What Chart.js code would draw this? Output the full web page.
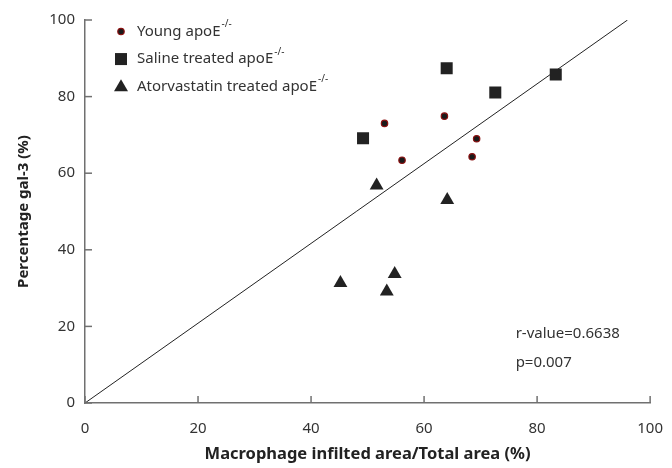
<!DOCTYPE html>
<html>
<head>
<meta charset="utf-8">
<script src="https://cdn.jsdelivr.net/npm/chart.js@4.4.1/dist/chart.umd.min.js"></script>
<style>
  html, body { margin: 0; padding: 0; background: #fff; }
  #wrap { width: 672px; height: 468px; }
</style>
</head>
<body>
<div id="wrap"><canvas id="grafico"></canvas></div>
<script>
// dados
const youngX = [53.0, 63.6, 69.3, 68.5, 56.1];
const youngY = [73.0, 74.9, 69.0, 64.3, 63.4];
const salineX = [64.0, 72.6, 83.3, 49.2];
const salineY = [87.4, 81.1, 85.8, 69.1];
const atorX = [51.6, 64.1, 45.2, 54.8, 53.4];
const atorY = [56.8, 53.0, 31.3, 33.7, 29.1];
const lineX = [0, 96];
const lineY = [0, 100];
const tickValues = [0, 20, 40, 60, 80, 100];
const legendLabels = ['Young apoE', 'Saline treated apoE', 'Atorvastatin treated apoE'];
const statsText = ['r-value=0.6638', 'p=0.007'];

const FONT = '"Noto Sans", "Open Sans", sans-serif';
const AXIS = '#707070';

function pts(xs, ys) {
    return xs.map((x, i) => ({ x: x, y: ys[i] }));
}

// ticks para dentro + legenda com sobrescrito
const extrasPlugin = {
    id: 'extras',
    afterDraw(chart) {
        const ctx = chart.ctx;
        const xs = chart.scales.x, ys = chart.scales.y;
        const area = chart.chartArea;
        ctx.save();
        ctx.strokeStyle = AXIS;
        ctx.lineWidth = 1.5;
        tickValues.forEach(v => {
            const px = xs.getPixelForValue(v);
            ctx.beginPath();
            ctx.moveTo(px, area.bottom);
            ctx.lineTo(px, area.bottom - 7);
            ctx.stroke();
            const py = ys.getPixelForValue(v);
            ctx.beginPath();
            ctx.moveTo(area.left, py);
            ctx.lineTo(area.left + 7, py);
            ctx.stroke();
        });

        // legenda
        const lx = area.left + 36, tx = area.left + 52;
        const rows = [ys.getPixelForValue(97), ys.getPixelForValue(89.8), ys.getPixelForValue(82.7)];
        ctx.beginPath();
        ctx.arc(lx, rows[0], 3.2, 0, Math.PI * 2);
        ctx.fillStyle = '#1a1a1a';
        ctx.fill();
        ctx.strokeStyle = '#8b1010';
        ctx.lineWidth = 1.2;
        ctx.stroke();
        ctx.fillStyle = '#222';
        ctx.fillRect(lx - 6, rows[1] - 6, 12, 12);
        ctx.beginPath();
        ctx.moveTo(lx, rows[2] - 7);
        ctx.lineTo(lx + 7, rows[2] + 5);
        ctx.lineTo(lx - 7, rows[2] + 5);
        ctx.closePath();
        ctx.fill();

        ctx.fillStyle = '#333';
        ctx.textBaseline = 'middle';
        ctx.textAlign = 'left';
        legendLabels.forEach((t, i) => {
            ctx.font = '15px ' + FONT;
            ctx.fillText(t, tx, rows[i]);
            const w = ctx.measureText(t).width;
            ctx.font = '10px ' + FONT;
            ctx.fillText('-/-', tx + w + 1, rows[i] - 7);
        });

        // estatisticas
        ctx.font = '15px ' + FONT;
        ctx.fillText(statsText[0], xs.getPixelForValue(76.2), ys.getPixelForValue(18.0));
        ctx.fillText(statsText[1], xs.getPixelForValue(76.2), ys.getPixelForValue(10.5));
        ctx.restore();
    }
};

function generateChart() {
    const ctx = document.getElementById('grafico').getContext('2d');
    new Chart(ctx, {
        type: 'scatter',
        data: {
            datasets: [{
                label: legendLabels[0],
                data: pts(youngX, youngY),
                pointStyle: 'circle',
                pointRadius: 3.2,
                backgroundColor: '#1a1a1a',
                borderColor: '#8b1010',
                borderWidth: 1.2
            }, {
                label: legendLabels[1],
                data: pts(salineX, salineY),
                pointStyle: 'rect',
                pointRadius: 8.5,
                backgroundColor: '#222',
                borderColor: '#222',
                borderWidth: 0
            }, {
                label: legendLabels[2],
                data: pts(atorX, atorY),
                pointStyle: 'triangle',
                pointRadius: 8,
                backgroundColor: '#222',
                borderColor: '#222',
                borderWidth: 0
            }, {
                label: 'fit',
                type: 'line',
                data: pts(lineX, lineY),
                borderColor: '#222',
                borderWidth: 1,
                pointRadius: 0,
                fill: false
            }]
        },
        options: {
            responsive: true,
            maintainAspectRatio: false,
            animation: false,
            layout: { padding: { top: 20, right: 13, left: 0, bottom: 0 } },
            plugins: {
                legend: { display: false },
                tooltip: { enabled: false }
            },
            scales: {
                x: {
                    type: 'linear',
                    min: 0, max: 100,
                    afterBuildTicks: s => { s.ticks = tickValues.map(v => ({ value: v })); },
                    afterFit: s => { s.height = 65; },
                    grid: { display: false },
                    border: { color: AXIS, width: 1.5 },
                    ticks: { color: '#333', padding: 9, font: { size: 15, family: FONT } },
                    title: {
                        display: true,
                        text: 'Macrophage infilted area/Total area (%)',
                        color: '#222',
                        font: { size: 16.5, weight: 'bold', family: FONT },
                        padding: { top: 4 }
                    }
                },
                y: {
                    type: 'linear',
                    min: 0, max: 100,
                    afterBuildTicks: s => { s.ticks = tickValues.map(v => ({ value: v })); },
                    afterFit: s => { s.width = 85; },
                    grid: { display: false },
                    border: { color: AXIS, width: 1.5 },
                    ticks: { color: '#333', padding: 2, font: { size: 15, family: FONT } },
                    title: {
                        display: true,
                        text: 'Percentage gal-3 (%)',
                        color: '#222',
                        font: { size: 15, weight: 'bold', family: FONT },
                        padding: { top: 15, bottom: 0 }
                    }
                }
            }
        },
        plugins: [extrasPlugin]
    });
}

generateChart();
</script>
</body>
</html>
